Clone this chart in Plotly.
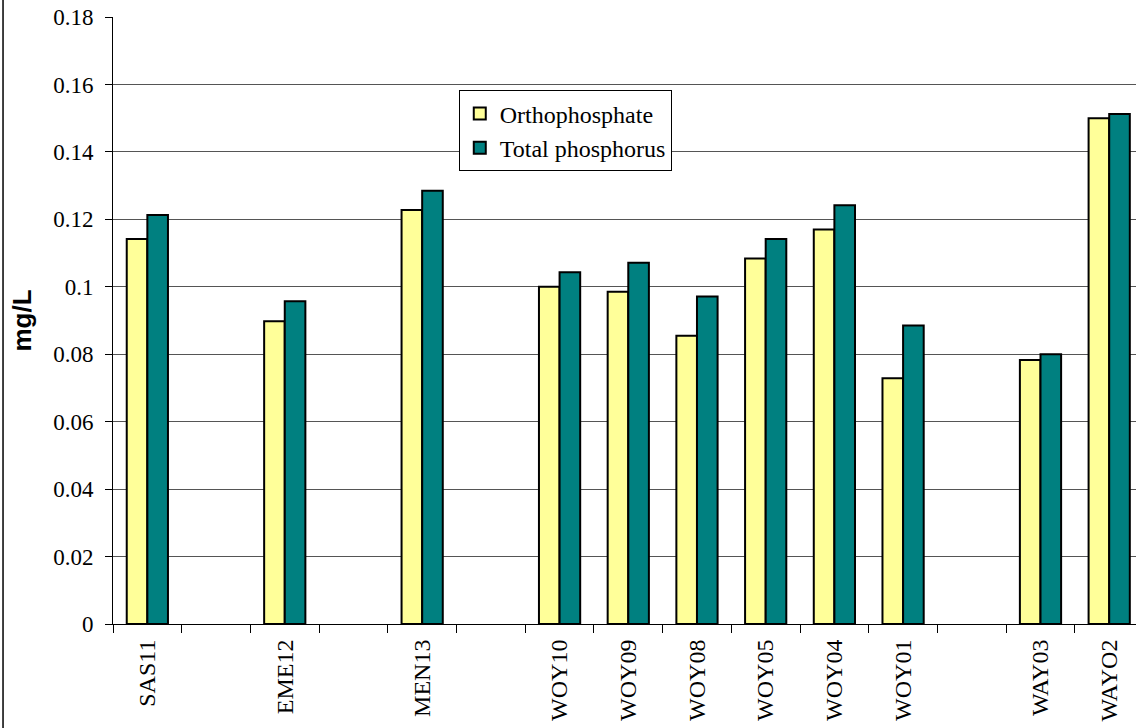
import plotly.graph_objects as go

# Sampling sites in plotting order; empty strings are spacer slots between site groups
sites = ["SAS11", "", "EME12", "", "MEN13", "", "WOY10", "WOY09", "WOY08",
         "WOY05", "WOY04", "WOY01", "", "WAY03", "WAYO2"]
orthophosphate = [0.1142, None, 0.0898, None, 0.1228, None, 0.1000, 0.0985,
                  0.0855, 0.1084, 0.1170, 0.0729, None, 0.0783, 0.1500]
total_phosphorus = [0.1213, None, 0.0957, None, 0.1285, None, 0.1043, 0.1071,
                    0.0971, 0.1142, 0.1242, 0.0885, None, 0.0800, 0.1512]
y_ticks = [0, 0.02, 0.04, 0.06, 0.08, 0.1, 0.12, 0.14, 0.16, 0.18]
y_tick_labels = ["0", "0.02", "0.04", "0.06", "0.08", "0.1", "0.12", "0.14", "0.16", "0.18"]

positions = list(range(len(sites)))
label_pos = [p for p, s in zip(positions, sites) if s]
label_txt = [s for s in sites if s]

serif = "Liberation Serif"

fig = go.Figure()
fig.add_trace(go.Bar(
    x=positions, y=orthophosphate, name="Orthophosphate", legendgroup="a",
    marker=dict(color="#FFFF99", line=dict(color="black", width=2)),
))
fig.add_trace(go.Bar(
    x=positions, y=total_phosphorus, name="Total phosphorus", legendgroup="b",
    marker=dict(color="#008080", line=dict(color="black", width=2)),
))

# Outer chart-area frame on the left edge
fig.add_shape(type="line", xref="paper", yref="paper",
              x0=-0.1075, x1=-0.1075, y0=-0.3, y1=1.2,
              line=dict(color="black", width=1.5))

fig.update_layout(
    width=1136, height=728,
    margin=dict(l=113, r=0, t=17, b=104),
    paper_bgcolor="white", plot_bgcolor="white",
    barmode="group", bargap=0.4, bargroupgap=0,
    font=dict(family=serif, size=23, color="black"),
    legend=dict(
        x=0.338, y=0.879, xanchor="left", yanchor="top",
        bgcolor="white", bordercolor="black", borderwidth=1,
        font=dict(family=serif, size=24), tracegroupgap=20,
        traceorder="normal",
    ),
    xaxis=dict(
        range=[-0.5, 14.39],
        tickmode="array", tickvals=label_pos, ticktext=label_txt,
        tickangle=-90, ticks="", showgrid=False, zeroline=False,
        showline=True, linecolor="black", linewidth=1,
        tickfont=dict(family=serif, size=24), ticklabelstandoff=5,
        minor=dict(tick0=-0.5, dtick=1, ticks="outside", ticklen=8,
                   tickcolor="black", showgrid=False),
    ),
    yaxis=dict(
        range=[0, 0.18], tickmode="array", tickvals=y_ticks, ticktext=y_tick_labels,
        ticks="outside", ticklen=7, tickcolor="black",
        showline=True, linecolor="black", linewidth=1,
        showgrid=True, gridcolor="#555555", gridwidth=1, zeroline=False,
        tickfont=dict(family=serif, size=23), ticklabelstandoff=7,
        title=dict(text="<b>mg/L</b>", font=dict(family="Liberation Sans", size=26), standoff=14),
    ),
)

fig.write_html("out.html")
